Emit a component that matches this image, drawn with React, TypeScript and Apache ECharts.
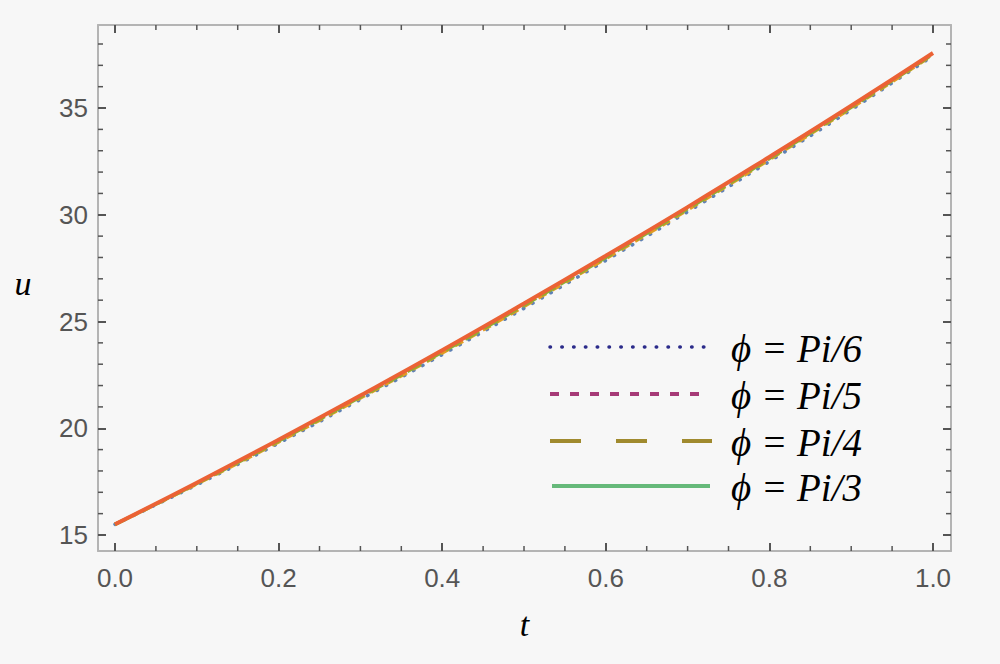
import React, { useEffect, useRef } from "react";
import * as echarts from "echarts";

const tValues = [0, 0.1, 0.2, 0.3, 0.4, 0.5, 0.6, 0.7, 0.8, 0.9, 1.0];
const uPi6 = [15.5, 17.35, 19.3, 21.35, 23.45, 25.62, 27.86, 30.14, 32.5, 34.92, 37.45];
const uPi5 = [15.5, 17.39, 19.36, 21.42, 23.53, 25.71, 27.95, 30.23, 32.59, 35.0, 37.5];
const uPi4 = [15.5, 17.41, 19.4, 21.46, 23.57, 25.76, 28.0, 30.28, 32.63, 35.04, 37.52];
const uPi3 = [15.5, 17.45, 19.46, 21.53, 23.65, 25.84, 28.08, 30.36, 32.71, 35.11, 37.58];

const seriesNames = ["\u03d5 = Pi/6", "\u03d5 = Pi/5", "\u03d5 = Pi/4", "\u03d5 = Pi/3"];

const xMajorTicks = [0, 0.2, 0.4, 0.6, 0.8, 1.0];
const xMinorTicks = [0.05, 0.1, 0.15, 0.25, 0.3, 0.35, 0.45, 0.5, 0.55, 0.65, 0.7, 0.75, 0.85, 0.9, 0.95];
const yMajorTicks = [15, 20, 25, 30, 35];
const yMinorTicks = [16, 17, 18, 19, 21, 22, 23, 24, 26, 27, 28, 29, 31, 32, 33, 34, 36, 37, 38];

const X_MIN = -0.0208;
const X_MAX = 1.022;
const Y_MIN = 14.25;
const Y_MAX = 38.89;

const plotColors = ["#5E81B5", "#E19C24", "#8FB032", "#EB6235"];
const legendColors = ["#2b2b8a", "#a63a77", "#a08a2e", "#66b97a"];

function pairs(ys: number[]) {
  return tValues.map((t, i) => [t, ys[i]]);
}

const TICK_COLOR = "#555555";
const FRAME_COLOR = "#b4b4b4";

export default function App() {
  const ref = useRef<HTMLDivElement>(null);
  useEffect(() => {
    if (!ref.current) return;
    const chart = echarts.init(ref.current, undefined, { renderer: "svg" });
    const labelStyle = {
      color: "#555555",
      fontFamily: "Liberation Sans",
      fontSize: 26,
    };
    const frameLine = { show: true, onZero: false, lineStyle: { color: FRAME_COLOR, width: 2 } };
    const tick = (vals: number[]) => ({
      show: true,
      inside: true,
      length: 8,
      customValues: vals,
      lineStyle: { color: TICK_COLOR, width: 2 },
    });
    const legendY = [347, 394, 441, 486];
    const legendLines = [
      { x1: 550, x2: 704, dash: [0.5, 11.3], cap: "round", w: 3.5 },
      { x1: 550, x2: 702, dash: [9, 11], cap: "butt", w: 4 },
      { x1: 550, x2: 712, dash: [31, 35], cap: "butt", w: 4 },
      { x1: 552, x2: 710, dash: null, cap: "butt", w: 4 },
    ];
    const graphics: any[] = [];
    legendLines.forEach((l, i) => {
      graphics.push({
        type: "line",
        shape: { x1: l.x1, y1: legendY[i], x2: l.x2, y2: legendY[i] },
        style: {
          stroke: legendColors[i],
          lineWidth: l.w,
          lineDash: l.dash,
          lineCap: l.cap,
        },
        silent: true,
      });
      graphics.push({
        type: "text",
        x: 731,
        y: legendY[i] + 1,
        style: {
          text: seriesNames[i],
          font: 'italic 39px "Liberation Serif"',
          fill: "#000000",
          textVerticalAlign: "middle",
          textAlign: "left",
        },
        silent: true,
      });
    });
    graphics.push({
      type: "text",
      x: 23,
      y: 283,
      style: {
        text: "u",
        font: 'italic 34px "Liberation Serif"',
        fill: "#000000",
        textVerticalAlign: "middle",
        textAlign: "center",
      },
      silent: true,
    });

    const tickSeriesX = (vals: number[], len: number, w: number) => ({
      type: "custom",
      silent: true,
      clip: false,
      z: 5,
      data: vals.map((v) => [v, Y_MIN]),
      renderItem: (_p: any, api: any) => {
        const v = api.value(0);
        const b = api.coord([v, Y_MIN]);
        const t = api.coord([v, Y_MAX]);
        const style = { stroke: TICK_COLOR, lineWidth: w, fill: null };
        return {
          type: "group",
          children: [
            { type: "line", shape: { x1: b[0], y1: b[1], x2: b[0], y2: b[1] - len }, style },
            { type: "line", shape: { x1: t[0], y1: t[1], x2: t[0], y2: t[1] + len }, style },
          ],
        };
      },
    });
    const tickSeriesY = (vals: number[], len: number, w: number) => ({
      type: "custom",
      silent: true,
      clip: false,
      z: 5,
      data: vals.map((v) => [X_MIN, v]),
      renderItem: (_p: any, api: any) => {
        const v = api.value(1);
        const l = api.coord([X_MIN, v]);
        const r = api.coord([X_MAX, v]);
        const style = { stroke: TICK_COLOR, lineWidth: w, fill: null };
        return {
          type: "group",
          children: [
            { type: "line", shape: { x1: l[0], y1: l[1], x2: l[0] + len, y2: l[1] }, style },
            { type: "line", shape: { x1: r[0], y1: r[1], x2: r[0] - len, y2: r[1] }, style },
          ],
        };
      },
    });

    chart.setOption({
      animation: false,
      grid: { left: 98, right: 49, top: 25, bottom: 113 },
      xAxis: [
        {
          type: "value",
          min: X_MIN,
          max: X_MAX,
          position: "bottom",
          splitLine: { show: false },
          axisLine: frameLine,
          axisTick: tick(xMajorTicks),
          name: "t",
          nameLocation: "middle",
          nameGap: 56,
          nameTextStyle: {
            fontFamily: "Liberation Serif",
            fontStyle: "italic",
            fontSize: 34,
            color: "#000",
          },
          axisLabel: {
            ...labelStyle,
            margin: 14,
            customValues: xMajorTicks,
            formatter: (v: number) => v.toFixed(1),
          },
        },
        {
          type: "value",
          min: X_MIN,
          max: X_MAX,
          position: "top",
          splitLine: { show: false },
          axisLine: frameLine,
          axisTick: tick(xMajorTicks),
          axisLabel: { show: false },
        },
      ],
      yAxis: [
        {
          type: "value",
          min: Y_MIN,
          max: Y_MAX,
          position: "left",
          splitLine: { show: false },
          axisLine: frameLine,
          axisTick: tick(yMajorTicks),
          axisLabel: {
            ...labelStyle,
            margin: 10,
            customValues: yMajorTicks,
          },
        },
        {
          type: "value",
          min: Y_MIN,
          max: Y_MAX,
          position: "right",
          splitLine: { show: false },
          axisLine: frameLine,
          axisTick: tick(yMajorTicks),
          axisLabel: { show: false },
        },
      ],
      series: [
        tickSeriesX(xMinorTicks, 5, 1.5),
        tickSeriesY(yMinorTicks, 5, 1.5),
        {
          name: seriesNames[0],
          type: "line",
          data: pairs(uPi6),
          smooth: true,
          showSymbol: false,
          lineStyle: { color: plotColors[0], width: 3.5, type: [0.5, 10], cap: "round" },
        },
        {
          name: seriesNames[1],
          type: "line",
          data: pairs(uPi5),
          smooth: true,
          showSymbol: false,
          lineStyle: { color: plotColors[1], width: 3.5, type: [9, 7] },
        },
        {
          name: seriesNames[2],
          type: "line",
          data: pairs(uPi4),
          smooth: true,
          showSymbol: false,
          lineStyle: { color: plotColors[2], width: 3.5, type: [16, 6] },
        },
        {
          name: seriesNames[3],
          type: "line",
          data: pairs(uPi3),
          smooth: true,
          showSymbol: false,
          lineStyle: { color: plotColors[3], width: 4, type: "solid" },
        },
      ],
      graphic: graphics,
    });
    return () => chart.dispose();
  }, []);
  return (
    <div
      ref={ref}
      style={{
        position: "absolute",
        left: 0,
        top: 0,
        width: 1000,
        height: 664,
        background: "#f7f7f7",
      }}
    />
  );
}
